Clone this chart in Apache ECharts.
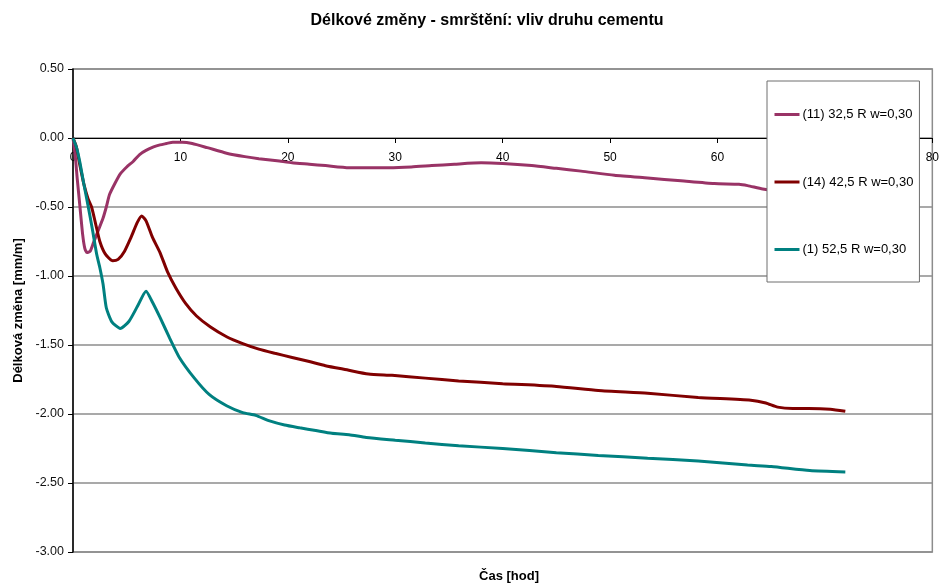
<!DOCTYPE html>
<html>
<head>
<meta charset="utf-8">
<script src="https://cdn.jsdelivr.net/npm/echarts@6/dist/echarts.min.js"></script>
<style>
  html, body { margin: 0; padding: 0; background: #fff; }
  #chart { width: 942px; height: 583px; }
</style>
</head>
<body>
<div id="chart"></div>
<script>
// Délkové změny – smrštění pro tři druhy cementu (čas v hodinách, změna v mm/m)
const seriesNames = ['(11) 32,5 R w=0,30', '(14) 42,5 R w=0,30', '(1) 52,5 R w=0,30'];
const seriesColors = ['#993366', '#800000', '#008080'];

const t11 = [0, 0.2, 0.4, 0.65, 0.9, 1.1, 1.3, 1.6, 1.9, 2.3, 2.8, 3.1, 3.4, 3.9, 4.4, 5.0, 5.6, 6.2, 6.8, 7.5, 8.1, 8.7, 9.3, 10.2, 11.1, 12.5, 14.3, 16, 17.3, 19, 20.4, 22, 23.5, 25.7, 27.5, 29.4, 31.5, 33.4, 35.5, 38, 40, 42.7, 45, 47.3, 50.4, 53.5, 56.6, 59.7, 62, 62.8, 64.2, 66, 68, 70, 72];
const v11 = [0, -0.12, -0.3, -0.5, -0.7, -0.8, -0.83, -0.82, -0.76, -0.68, -0.58, -0.5, -0.41, -0.33, -0.26, -0.21, -0.17, -0.12, -0.09, -0.065, -0.05, -0.04, -0.03, -0.03, -0.04, -0.07, -0.11, -0.135, -0.15, -0.165, -0.18, -0.19, -0.2, -0.215, -0.215, -0.215, -0.21, -0.2, -0.19, -0.18, -0.185, -0.2, -0.22, -0.24, -0.27, -0.29, -0.31, -0.33, -0.335, -0.345, -0.37, -0.39, -0.4, -0.41, -0.42];

const t14 = [0, 0.3, 0.65, 1.0, 1.4, 1.73, 2.1, 2.5, 3.0, 3.7, 4.2, 4.8, 5.4, 6.0, 6.4, 6.8, 7.4, 8.1, 8.8, 9.6, 10.5, 11.5, 12.8, 14.3, 15.8, 17.3, 18.8, 20.4, 22, 23.5, 25.5, 27.5, 29.7, 32.8, 35.9, 40, 45, 48.9, 53.5, 58.2, 63.1, 64.5, 65.6, 67, 68.5, 70.5, 71.9];
const v14 = [0, -0.06, -0.2, -0.33, -0.44, -0.5, -0.62, -0.75, -0.84, -0.89, -0.88, -0.82, -0.72, -0.61, -0.565, -0.6, -0.72, -0.83, -0.97, -1.09, -1.2, -1.29, -1.37, -1.44, -1.49, -1.53, -1.56, -1.59, -1.62, -1.65, -1.68, -1.71, -1.72, -1.74, -1.76, -1.78, -1.80, -1.83, -1.85, -1.88, -1.90, -1.92, -1.95, -1.96, -1.96, -1.965, -1.98];

const t1 = [0, 0.37, 0.65, 1.0, 1.4, 1.8, 2.2, 2.5, 2.8, 3.1, 3.6, 4.4, 5.2, 6.0, 6.8, 7.4, 8.1, 9.0, 9.9, 11.3, 12.7, 14.3, 15.8, 17, 18.3, 19.7, 21.1, 22.6, 24.1, 25.7, 27.3, 30, 32.8, 35.9, 40, 45, 48.9, 53.5, 58.2, 62.8, 65, 68.6, 71.9];
const v1 = [0, -0.08, -0.18, -0.33, -0.49, -0.66, -0.84, -0.94, -1.06, -1.23, -1.33, -1.38, -1.33, -1.22, -1.11, -1.19, -1.30, -1.45, -1.59, -1.74, -1.86, -1.94, -1.99, -2.01, -2.05, -2.08, -2.10, -2.12, -2.14, -2.15, -2.17, -2.19, -2.21, -2.23, -2.25, -2.28, -2.30, -2.32, -2.34, -2.37, -2.38, -2.41, -2.42];

const xTicks = { min: 0, max: 80, step: 10 };
const yTicks = { min: -3, max: 0.5, step: 0.5 };

const pairs = (ts, vs) => ts.map((t, i) => [t, vs[i]]);
const seriesData = [pairs(t11, v11), pairs(t14, v14), pairs(t1, v1)];

// plot area
const W = 942, H = 583;
const gridBox = { left: 73, right: 8, top: 69, bottom: 31 };
const plotH = H - gridBox.top - gridBox.bottom;
// the time axis sits on the zero line of the y axis
const xAxisShift = -plotH * (0 - yTicks.min) / (yTicks.max - yTicks.min);

const FONT = 'Liberation Sans, Arial, sans-serif';
const chart = echarts.init(document.getElementById('chart'), null, { renderer: 'canvas' });

chart.setOption({
  animation: false,
  backgroundColor: '#fff',
  textStyle: { fontFamily: FONT },
  title: [
    {
      text: 'Délkové změny - smrštění: vliv druhu cementu',
      left: 482, top: 8, textAlign: 'center',
      textStyle: { fontSize: 16, fontWeight: 'bold', color: '#000', fontFamily: FONT }
    },
    {
      text: 'Čas [hod]',
      left: 504, top: 565, textAlign: 'center',
      textStyle: { fontSize: 13, fontWeight: 'bold', color: '#000', fontFamily: FONT }
    }
  ],
  grid: Object.assign({
    show: true, borderColor: '#8c8c8c', borderWidth: 1.5, backgroundColor: '#fff'
  }, gridBox),
  legend: {
    orient: 'vertical',
    left: 767, top: 81,
    padding: [27, 6, 26, 6],
    itemGap: 54.5,
    itemWidth: 25, itemHeight: 14,
    backgroundColor: '#fff',
    borderColor: '#6e6e6e', borderWidth: 1,
    itemStyle: { opacity: 0 },
    lineStyle: { width: 3 },
    textStyle: { fontSize: 13, color: '#000', padding: [0, 0, 0, -2] },
    data: seriesNames
  },
  xAxis: {
    type: 'value',
    min: xTicks.min, max: xTicks.max, interval: xTicks.step,
    offset: xAxisShift,
    axisLine: { onZero: false, lineStyle: { color: '#000', width: 1 } },
    axisTick: { show: true, length: 5, lineStyle: { color: '#000' } },
    axisLabel: { fontSize: 12, color: '#000', margin: 14 },
    splitLine: { show: false }
  },
  yAxis: {
    type: 'value',
    min: yTicks.min, max: yTicks.max, interval: yTicks.step,
    name: 'Délková změna [mm/m]',
    nameLocation: 'middle',
    nameGap: 46,
    nameTextStyle: { fontSize: 13, fontWeight: 'bold', color: '#000' },
    axisLine: { show: true, lineStyle: { color: '#000', width: 1.5 } },
    axisTick: { show: true, length: 5, lineStyle: { color: '#000' } },
    axisLabel: { fontSize: 12.5, color: '#111', margin: 9, formatter: v => v.toFixed(2) },
    splitLine: { show: true, lineStyle: { color: '#8c8c8c', width: 1.5 } }
  },
  series: seriesNames.map((name, i) => ({
    name,
    type: 'line',
    data: seriesData[i],
    symbol: 'none',
    smooth: 0.2,
    color: seriesColors[i],
    lineStyle: { width: 3, color: seriesColors[i] },
    z: 2
  }))
});
</script>
</body>
</html>
